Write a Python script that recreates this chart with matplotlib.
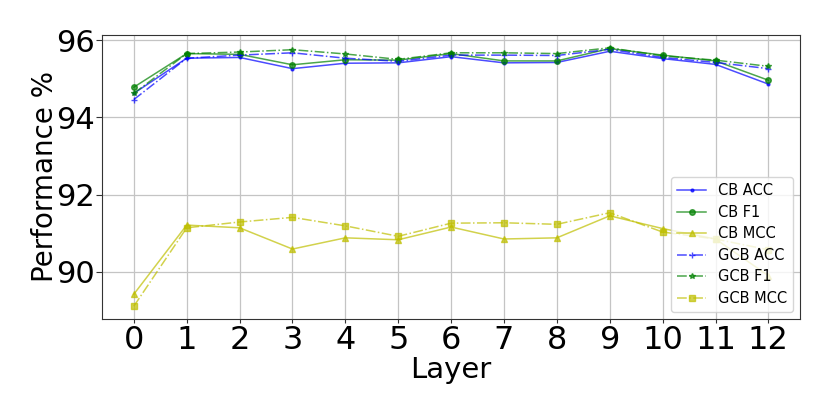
import matplotlib
matplotlib.use("Agg")
import matplotlib.pyplot as plt

layers = list(range(13))

cb_acc  = [94.62, 95.53, 95.55, 95.26, 95.40, 95.41, 95.57, 95.41, 95.42, 95.71, 95.52, 95.37, 94.86]
cb_f1   = [94.78, 95.65, 95.63, 95.36, 95.49, 95.48, 95.65, 95.46, 95.46, 95.78, 95.61, 95.46, 94.96]
cb_mcc  = [89.42, 91.21, 91.14, 90.59, 90.88, 90.83, 91.16, 90.85, 90.88, 91.45, 91.12, 90.85, 89.90]
gcb_acc = [94.46, 95.53, 95.61, 95.67, 95.53, 95.45, 95.61, 95.61, 95.60, 95.76, 95.55, 95.42, 95.26]
gcb_f1  = [94.62, 95.65, 95.69, 95.75, 95.64, 95.50, 95.67, 95.67, 95.65, 95.80, 95.59, 95.48, 95.32]
gcb_mcc = [89.11, 91.14, 91.29, 91.41, 91.19, 90.92, 91.26, 91.27, 91.23, 91.53, 91.03, 90.85, 90.57]

series = [
    ("CB ACC", cb_acc, "b", "-", "."),
    ("CB F1", cb_f1, "g", "-", "o"),
    ("CB MCC", cb_mcc, "y", "-", "^"),
    ("GCB ACC", gcb_acc, "b", "-.", "+"),
    ("GCB F1", gcb_f1, "g", "-.", "*"),
    ("GCB MCC", gcb_mcc, "y", "-.", "s"),
]

fig = plt.figure(figsize=(8.3, 4.15), dpi=100)
ax = fig.add_axes([0.123, 0.231, 0.841, 0.685])

for label, vals, color, ls, mk in series:
    ax.plot(layers, vals, color=color, linestyle=ls, marker=mk,
            markersize=4, linewidth=1.1, alpha=0.7, label=label)

ax.grid(True, color="#c4c4c4", linewidth=0.9)
for sp in ax.spines.values():
    sp.set_color("#333333")
ax.set_xticks(layers)
ax.set_yticks([90, 92, 94, 96])
ax.tick_params(axis="x", labelsize=23, length=3, pad=1, color="#333333")
ax.tick_params(axis="y", labelsize=22, length=4, pad=1, color="#333333")
ax.set_xlabel("Layer", fontsize=21, labelpad=0)
ax.set_ylabel("Performance %", fontsize=20, labelpad=-2)
ax.legend(loc="lower right", fontsize=10.5, labelspacing=0.45)

fig.savefig("out.png", dpi=100)
